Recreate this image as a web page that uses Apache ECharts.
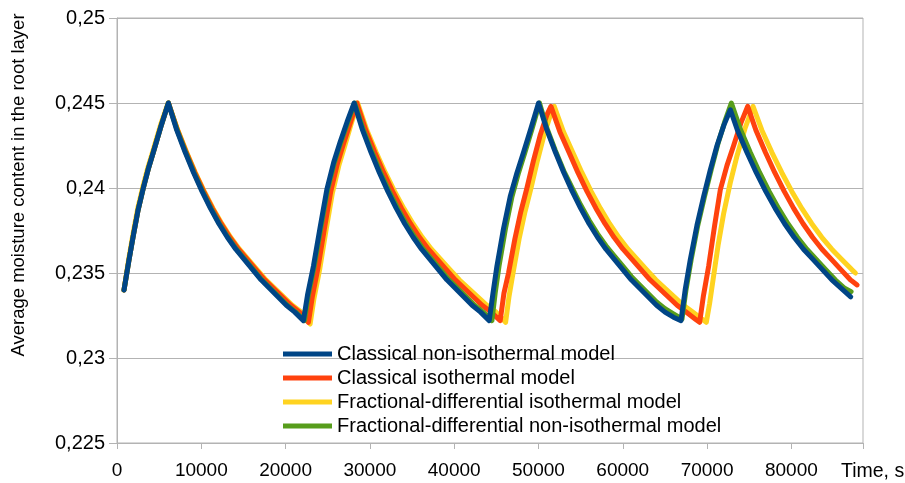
<!DOCTYPE html>
<html>
<head>
<meta charset="utf-8">
<script src="https://cdn.jsdelivr.net/npm/echarts@6/dist/echarts.min.js"></script>
<style>html,body{margin:0;padding:0;background:#fff}#c{width:905px;height:483px}</style>
</head>
<body>
<div id="c"></div>
<script>
// ---- data (time in s, average moisture content) ----
const seriesNames = [
  'Classical non-isothermal model',
  'Classical isothermal model',
  'Fractional-differential isothermal model',
  'Fractional-differential non-isothermal model'
];
const xTicks = [0, 10000, 20000, 30000, 40000, 50000, 60000, 70000, 80000];
const yTickValues = [0.225, 0.23, 0.235, 0.24, 0.245, 0.25];
const yTickLabels = ['0,225', '0,23', '0,235', '0,24', '0,245', '0,25'];

const classicalNonIso = [
[831,0.2340],[1400,0.2357],[1935,0.2372],[2500,0.2387],[3122,0.2400],[3700,0.2411],[4309,0.2421],[5200,0.2436],[6089,0.2450],
[7089,0.2434],[8089,0.2421],[9089,0.2409],[10089,0.2398],[11089,0.2388],[12089,0.2379],[13089,0.2371],[14089,0.2364],[15089,0.2358],[16089,0.2352],[17089,0.2346],[18089,0.2341],[19089,0.2336],[20089,0.2331],[21089,0.2327],[22114,0.2322],
[22600,0.2337],[23301,0.2354],[24100,0.2377],[24891,0.2399],[25700,0.2415],[26470,0.2427],[27300,0.2439],[28132,0.2450],
[29132,0.2434],[30132,0.2421],[31132,0.2409],[32132,0.2398],[33132,0.2388],[34132,0.2379],[35132,0.2371],[36132,0.2364],[37132,0.2358],[38132,0.2352],[39132,0.2346],[40132,0.2341],[41132,0.2336],[42132,0.2331],[43132,0.2327],[44156,0.2322],
[44600,0.2338],[45070,0.2354],[45850,0.2376],[46649,0.2395],[47450,0.2409],[48228,0.2421],[49100,0.2435],[50009,0.2450],
[51009,0.2434],[52009,0.2421],[53009,0.2409],[54009,0.2398],[55009,0.2388],[56009,0.2379],[57009,0.2371],[58009,0.2364],[59009,0.2358],[60009,0.2352],[61009,0.2346],[62009,0.2341],[63009,0.2336],[64009,0.2331],[65009,0.2327],[66009,0.2324],[66911,0.2322],
[67400,0.2340],[68014,0.2358],[68800,0.2378],[69594,0.2395],[70400,0.2411],[71184,0.2425],[72000,0.2437],[72763,0.2446],
[73603,0.2434],[74723,0.2421],[75843,0.2409],[76963,0.2398],[78083,0.2388],[79203,0.2379],[80323,0.2371],[81443,0.2364],[82563,0.2358],[83683,0.2352],[84803,0.2346],[85923,0.2341],[87043,0.2336]
];

const classicalIso = [
[831,0.2340],[1400,0.2357],[1935,0.2372],[2500,0.2387],[3122,0.2400],[3700,0.2411],[4309,0.2421],[5200,0.2436],[6110,0.2450],
[7183,0.2434],[8216,0.2421],[9250,0.2409],[10284,0.2398],[11317,0.2388],[12351,0.2379],[13385,0.2371],[14419,0.2364],[15452,0.2358],[16486,0.2352],[17520,0.2346],[18553,0.2341],[19587,0.2336],[20621,0.2331],[21654,0.2327],[22707,0.2321],
[23170,0.2336],[23840,0.2353],[24600,0.2376],[25360,0.2398],[26130,0.2414],[26870,0.2426],[27660,0.2438],[28453,0.2450],
[29514,0.2434],[30576,0.2421],[31637,0.2409],[32699,0.2398],[33760,0.2388],[34822,0.2379],[35883,0.2371],[36945,0.2364],[38006,0.2358],[39068,0.2352],[40129,0.2346],[41191,0.2341],[42252,0.2336],[43314,0.2331],[44375,0.2327],[45462,0.2322],
[45900,0.2338],[46448,0.2350],[47200,0.2370],[47900,0.2386],[48632,0.2400],[49400,0.2416],[50200,0.2431],[51000,0.2443],[51480,0.2448],
[52549,0.2433],[53618,0.2421],[54687,0.2409],[55756,0.2398],[56825,0.2388],[57894,0.2379],[58963,0.2371],[60032,0.2364],[61101,0.2358],[62170,0.2352],[63239,0.2346],[64308,0.2341],[65377,0.2336],[66446,0.2331],[67515,0.2327],[68584,0.2323],[69120,0.2321],
[69550,0.2336],[70189,0.2354],[70900,0.2378],[71576,0.2399],[72350,0.2413],[73155,0.2425],[74000,0.2438],[74817,0.2448],
[75797,0.2434],[76917,0.2421],[78037,0.2409],[79157,0.2398],[80277,0.2388],[81397,0.2379],[82517,0.2371],[83637,0.2364],[84757,0.2358],[85877,0.2352],[86997,0.2346],[87803,0.2343]
];

const fractionalIso = [
[831,0.2340],[1380,0.2358],[1900,0.2373],[2460,0.2388],[3080,0.2401],[3660,0.2412],[4270,0.2422],[5160,0.2437],[6060,0.2450],
[7214,0.2434],[8259,0.2421],[9304,0.2409],[10349,0.2398],[11394,0.2388],[12439,0.2379],[13484,0.2371],[14529,0.2364],[15574,0.2358],[16619,0.2352],[17664,0.2346],[18709,0.2341],[19754,0.2336],[20799,0.2331],[21844,0.2327],[22914,0.2320],
[23370,0.2335],[24040,0.2352],[24790,0.2375],[25550,0.2397],[26310,0.2413],[27030,0.2425],[27800,0.2438],[28550,0.2450],
[29645,0.2434],[30740,0.2421],[31836,0.2409],[32931,0.2398],[34026,0.2388],[35121,0.2379],[36217,0.2371],[37312,0.2364],[38407,0.2358],[39502,0.2352],[40598,0.2346],[41693,0.2341],[42788,0.2336],[43883,0.2331],[44978,0.2327],[46100,0.2321],
[46500,0.2336],[46980,0.2350],[47700,0.2370],[48400,0.2386],[49120,0.2400],[49870,0.2416],[50650,0.2431],[51420,0.2443],[51872,0.2448],
[52967,0.2433],[54062,0.2421],[55157,0.2409],[56252,0.2398],[57347,0.2388],[58442,0.2379],[59537,0.2371],[60632,0.2364],[61727,0.2358],[62822,0.2352],[63917,0.2346],[65012,0.2341],[66107,0.2336],[67202,0.2331],[68297,0.2327],[69392,0.2323],[69914,0.2321],
[70300,0.2332],[70709,0.2346],[71300,0.2366],[71968,0.2385],[72750,0.2403],[73558,0.2419],[74500,0.2435],[75456,0.2448],
[76501,0.2434],[77686,0.2421],[78872,0.2409],[80057,0.2398],[81242,0.2388],[82427,0.2379],[83612,0.2371],[84798,0.2364],[85983,0.2358],[87168,0.2352],[87601,0.2350]
];

const fractionalNonIso = [
[831,0.2340],[1400,0.2357],[1935,0.2372],[2500,0.2387],[3122,0.2400],[3700,0.2411],[4309,0.2421],[5200,0.2436],[6100,0.2450],
[7140,0.2434],[8145,0.2421],[9150,0.2409],[10155,0.2398],[11160,0.2388],[12165,0.2379],[13170,0.2371],[14175,0.2364],[15180,0.2358],[16185,0.2352],[17190,0.2346],[18195,0.2341],[19200,0.2336],[20205,0.2331],[21210,0.2327],[22230,0.2322],
[22700,0.2337],[23400,0.2354],[24200,0.2377],[24990,0.2399],[25800,0.2415],[26570,0.2427],[27400,0.2439],[28200,0.2450],
[29246,0.2434],[30259,0.2421],[31273,0.2409],[32287,0.2398],[33301,0.2388],[34314,0.2379],[35328,0.2371],[36342,0.2364],[37356,0.2358],[38369,0.2352],[39383,0.2346],[40397,0.2341],[41410,0.2336],[42424,0.2331],[43438,0.2327],[44477,0.2322],
[44860,0.2338],[45320,0.2354],[46080,0.2376],[46860,0.2395],[47640,0.2409],[48400,0.2421],[49250,0.2435],[50120,0.2450],
[51009,0.2435],[52009,0.2422],[53009,0.2410],[54009,0.2400],[55009,0.2390],[56009,0.2381],[57009,0.2373],[58009,0.2366],[59009,0.2360],[60009,0.2354],[61009,0.2348],[62009,0.2343],[63009,0.2338],[64009,0.2333],[65009,0.2329],[66009,0.2326],[67030,0.2323],
[67500,0.2340],[68120,0.2358],[68900,0.2378],[69700,0.2395],[70500,0.2411],[71290,0.2426],[72100,0.2439],[72882,0.2450],
[74002,0.2434],[75122,0.2421],[76242,0.2409],[77362,0.2398],[78482,0.2388],[79602,0.2379],[80722,0.2371],[81842,0.2364],[82962,0.2358],[84082,0.2352],[85202,0.2346],[86322,0.2341],[87090,0.2339]
];

const colors = {
  'Classical non-isothermal model': '#004586',
  'Classical isothermal model': '#ff420e',
  'Fractional-differential isothermal model': '#ffd320',
  'Fractional-differential non-isothermal model': '#579d1c'
};
const dataByName = {
  'Classical non-isothermal model': classicalNonIso,
  'Classical isothermal model': classicalIso,
  'Fractional-differential isothermal model': fractionalIso,
  'Fractional-differential non-isothermal model': fractionalNonIso
};
// drawing order (bottom to top)
const drawOrder = [
  'Fractional-differential isothermal model',
  'Classical isothermal model',
  'Fractional-differential non-isothermal model',
  'Classical non-isothermal model'
];

const FONT = '"Liberation Sans", Arial, sans-serif';
const GRAY = '#b3b3b3';

const chart = echarts.init(document.getElementById('c'), null, {renderer: 'canvas'});
chart.setOption({
  animation: false,
  backgroundColor: '#ffffff',
  grid: {left: 117, right: 42, top: 18, bottom: 40, show: true, borderColor: GRAY, borderWidth: 1},
  xAxis: {
    type: 'value', min: xTicks[0], max: 88500, interval: 10000,
    axisLine: {show: true, lineStyle: {color: GRAY, width: 1}},
    axisTick: {show: true, length: 6, lineStyle: {color: GRAY}},
    splitLine: {show: false},
    axisLabel: {
      margin: 18, fontSize: 19, color: '#000', fontFamily: FONT,
      formatter: v => xTicks.indexOf(v) >= 0 ? String(v) : ''
    }
  },
  yAxis: {
    type: 'value', min: 0.225, max: 0.25, interval: 0.005,
    axisLine: {show: true, lineStyle: {color: GRAY, width: 1}},
    axisTick: {show: true, length: 8, lineStyle: {color: GRAY}},
    splitLine: {show: true, lineStyle: {color: GRAY, width: 1}},
    axisLabel: {
      margin: 12, fontSize: 20, color: '#000', fontFamily: FONT,
      formatter: v => {
        let best = 0;
        yTickValues.forEach((t, i) => { if (Math.abs(t - v) < Math.abs(yTickValues[best] - v)) best = i; });
        return yTickLabels[best];
      }
    }
  },
  legend: {
    orient: 'vertical', left: 283, top: 344, padding: 0,
    data: seriesNames,
    icon: 'rect', itemWidth: 49, itemHeight: 5, itemGap: 4,
    textStyle: {fontSize: 20, color: '#000', fontFamily: FONT, lineHeight: 20}
  },
  graphic: [
    {type: 'text', left: 841, top: 462,
     style: {text: 'Time, s', fontSize: 19.5, fontFamily: FONT, fill: '#000'}},
    {type: 'text', x: 19, y: 185, rotation: Math.PI / 2,
     style: {text: 'Average moisture content in the root layer', fontSize: 18.5, fontFamily: FONT, fill: '#000',
             align: 'center', verticalAlign: 'middle'}}
  ],
  series: drawOrder.map(name => ({
    name: name, type: 'line', data: dataByName[name],
    showSymbol: false, symbol: 'none',
    lineStyle: {color: colors[name], width: 5, join: 'round', cap: 'round'},
    itemStyle: {color: colors[name]}
  }))
});
</script>
</body>
</html>
